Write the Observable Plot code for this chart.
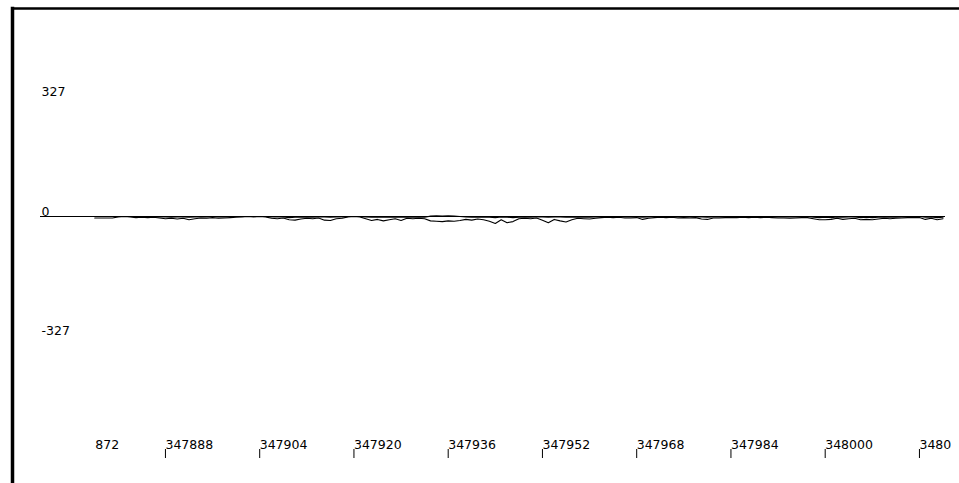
<!DOCTYPE html>
<html>
<head>
<meta charset="utf-8">
<script src="https://cdn.jsdelivr.net/npm/d3@7"></script>
<script src="https://cdn.jsdelivr.net/npm/@observablehq/plot@0.6"></script>
<style>
  html, body { margin: 0; padding: 0; background: #fff; }
  #chart svg { display: block; }
</style>
</head>
<body>
<div id="chart"></div>
<script>
// Sample numbers: first sample of the trace
const sampleStart = 347876;

// Upper envelope of the trace (per sample)
const upper = [
  0, 0, 0, 0,
  0, 0, 0,
  0, -1, 0, -1,
  -1, -1, -2, -1, -1,
  -2, -1, -1,
  -1, 0, -1, -1, 0, 0,
  0, 0, 0, 0, 0,
  -1, -1, -1,
  -3, -2, -2,
  -1, -2, -1,
  -1, -2, -1,
  -1,
  0, 0, 0,
  -1, -2, -2, -1, -2, -1, -2,
  -1, -2, -1, -2,
  1, 2, 1, 2, 1, 0,
  -1, -2, -1, -2,
  -2, -3, -1, -2, -3,
  -2, -1, -2, -1,
  -1, -2, -1, -1, -2,
  -2, -1, -2,
  -2, -1,
  -1, -1, -1, 0,
  -1, -1, -1,
  -2, -1,
  0, -1, 0, -1,
  -1, -1, -1, -1,
  -1, -2,
  -1, -1, -1,
  0, -1, 0, -1, 0, -1, 0, -1,
  -1, -1, -1, -1,
  -1, 0,
  -2, -3, -2, -3, -1,
  -2, -1, -1,
  -3, -2, -3, -2,
  -2, -1, -2, -1,
  -1, -1, 0,
  -2, -1, -3,
  -2
];

// Lower envelope of the trace (per sample)
const lower = [
  -4, -4, -4, -4,
  -1, 0, -1,
  -3, -2, -3, -2,
  -4, -6, -5, -7, -5,
  -9, -6, -4,
  -5, -3, -5, -4, -3, -2,
  -1, 0, -1, 0, -1,
  -5, -6, -4,
  -9, -10, -7,
  -5, -6, -4,
  -10, -11, -6,
  -5,
  -1, 0, -1,
  -6, -11, -8, -12, -9, -6, -11,
  -5, -6, -5, -6,
  -12, -13, -14, -12, -13, -11,
  -8, -10, -7, -9,
  -13, -19, -9, -17, -14,
  -6, -5, -6, -4,
  -10, -17, -8, -12, -15,
  -9, -5, -6,
  -7, -5,
  -3, -2, -3, -2,
  -4, -4, -3,
  -8, -5,
  -3, -2, -3, -2,
  -4, -3, -4, -3,
  -7, -8,
  -4, -4, -3,
  -3, -3, -2, -3, -2, -3, -2, -3,
  -4, -4, -5, -4,
  -3, -3,
  -6, -9, -9, -8, -5,
  -8, -6, -5,
  -9, -8, -9, -7,
  -5, -6, -5, -4,
  -3, -3, -3,
  -8, -5, -9,
  -6
];

// Axis ticks and labels (first and last labels are truncated as in the source)
const yTicks = [327, 0, -327];
const xTicks = [347888, 347904, 347920, 347936, 347952, 347968, 347984, 348000, 348016];
const xTickLabels = ["347888", "347904", "347920", "347936", "347952", "347968", "347984", "348000", "3480"];
const firstTick = [347872];
const firstTickLabel = ["872"];

const samples = upper.map((u, i) => ({ s: sampleStart + i, hi: u, lo: lower[i] }));

const chart = Plot.plot({
  width: 959,
  height: 483,
  marginLeft: 12,
  marginTop: 8,
  marginRight: 0,
  marginBottom: 0,
  style: { fontFamily: "DejaVu Sans", fontSize: "12.5px", color: "#000", background: "#fff" },
  x: { domain: [347860, 348022.8], range: [0, 959], axis: null },
  y: { domain: [-733.5, 593.4], range: [483, 0], axis: null },
  marks: [
    Plot.frame({ anchor: "top", stroke: "#000", strokeWidth: 2.5 }),
    Plot.frame({ anchor: "left", stroke: "#000", strokeWidth: 3.5 }),
    Plot.ruleY([0], { stroke: "#000", strokeWidth: 1, insetLeft: 28, insetRight: 14 }),
    Plot.line(samples, { x: "s", y: "hi", stroke: "#000", strokeWidth: 1.1 }),
    Plot.line(samples, { x: "s", y: "lo", stroke: "#000", strokeWidth: 1.1 }),
    Plot.text(yTicks, {
      y: d => d, text: d => String(d), frameAnchor: "left", dx: 29, dy: -1,
      textAnchor: "start", lineAnchor: "bottom", fill: "#000"
    }),
    Plot.text(xTicks, {
      x: d => d, text: (d, i) => xTickLabels[i], frameAnchor: "bottom", dy: -35,
      textAnchor: "start", lineAnchor: "bottom", fill: "#000"
    }),
    Plot.text(firstTick, {
      x: d => d, text: (d, i) => firstTickLabel[i], frameAnchor: "bottom", dy: -35, dx: 48,
      textAnchor: "end", lineAnchor: "bottom", fill: "#000"
    }),
    Plot.tickX(xTicks, { x: d => d, stroke: "#000", strokeWidth: 1, insetTop: 441, insetBottom: 25 })
  ]
});

document.getElementById("chart").appendChild(chart);
</script>
</body>
</html>
